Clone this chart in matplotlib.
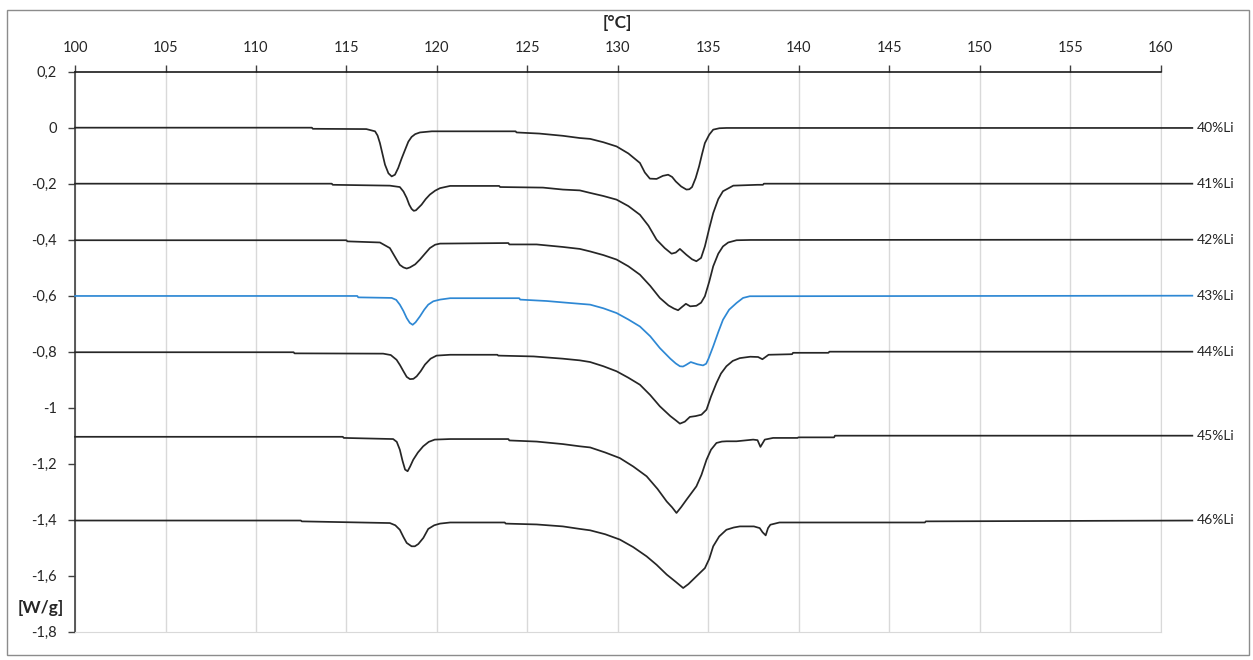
import matplotlib
matplotlib.use("Agg")
import matplotlib.pyplot as plt
from matplotlib.patches import Rectangle

# DSC curves, temperature [°C] vs heat flow [W/g]
t40 = [100, 113.09, 113.14, 116.10, 116.58, 116.72, 116.85, 117.13, 117.32, 117.50, 117.68, 117.86,
       118.05, 118.24, 118.42, 118.60, 118.80, 119.06, 119.72, 121.73, 124.35, 124.40, 125.66, 126.96,
       127.90, 128.47, 129.20, 129.93, 130.58, 131.22, 131.49, 131.77, 132.14, 132.49, 132.78, 133.00,
       133.20, 133.50, 133.79, 133.95, 134.10, 134.30, 134.49, 134.65, 134.81, 135.05, 135.27, 135.61,
       136.01, 161.75]
w40 = [0, 0, -0.004, -0.005, -0.013, -0.028, -0.055, -0.132, -0.163, -0.174, -0.168, -0.144,
       -0.110, -0.079, -0.050, -0.033, -0.023, -0.017, -0.013, -0.013, -0.013, -0.017, -0.021, -0.029,
       -0.037, -0.040, -0.052, -0.067, -0.092, -0.126, -0.160, -0.182, -0.183, -0.172, -0.168, -0.176,
       -0.192, -0.210, -0.221, -0.220, -0.212, -0.180, -0.138, -0.095, -0.055, -0.025, -0.007, -0.002,
       -0.001, -0.001]

t41 = [100, 114.19, 114.24, 117.40, 117.95, 118.15, 118.33, 118.47, 118.60, 118.72, 118.84, 119.15,
       119.38, 119.61, 119.90, 120.17, 120.73, 123.44, 123.49, 125.86, 126.96, 127.90, 128.47, 129.20,
       129.93, 130.58, 131.22, 131.69, 132.14, 132.59, 132.97, 133.20, 133.43, 133.79, 134.10, 134.34,
       134.60, 134.81, 135.05, 135.27, 135.55, 135.81, 136.38, 137.72, 138.02, 138.07, 161.75]
w41 = [-0.2, -0.2, -0.204, -0.207, -0.212, -0.228, -0.251, -0.275, -0.290, -0.297, -0.295, -0.275,
       -0.255, -0.239, -0.225, -0.216, -0.208, -0.208, -0.212, -0.214, -0.221, -0.224, -0.233, -0.244,
       -0.257, -0.280, -0.311, -0.350, -0.400, -0.430, -0.450, -0.446, -0.433, -0.454, -0.470, -0.477,
       -0.465, -0.424, -0.360, -0.305, -0.255, -0.227, -0.207, -0.204, -0.204, -0.2, -0.2]

t42 = [100, 115.00, 115.05, 116.85, 117.40, 117.77, 117.95, 118.15, 118.33, 118.51, 118.80, 119.06,
       119.34, 119.61, 119.90, 120.17, 123.95, 124.00, 125.51, 126.96, 127.90, 128.47, 129.20, 129.93,
       130.58, 131.22, 131.79, 132.32, 132.80, 133.10, 133.33, 133.55, 133.76, 134.00, 134.34, 134.60,
       134.81, 135.05, 135.27, 135.55, 135.81, 136.10, 136.56, 137.32, 161.75]
w42 = [-0.402, -0.402, -0.406, -0.410, -0.430, -0.471, -0.490, -0.499, -0.503, -0.499, -0.488, -0.471,
       -0.450, -0.430, -0.418, -0.414, -0.412, -0.417, -0.417, -0.426, -0.433, -0.442, -0.455, -0.471,
       -0.495, -0.525, -0.565, -0.608, -0.635, -0.646, -0.652, -0.640, -0.629, -0.638, -0.636, -0.625,
       -0.602, -0.550, -0.495, -0.450, -0.424, -0.410, -0.402, -0.401, -0.4]

t43 = [100, 115.60, 115.65, 117.50, 117.75, 117.95, 118.15, 118.33, 118.50, 118.66, 118.82, 119.06,
       119.30, 119.52, 119.80, 120.17, 120.73, 124.55, 124.60, 126.06, 126.96, 127.90, 128.47, 129.20,
       129.93, 130.58, 131.22, 131.79, 132.32, 132.90, 133.20, 133.43, 133.60, 133.75, 134.03, 134.40,
       134.71, 134.88, 135.01, 135.27, 135.55, 135.81, 136.15, 136.56, 136.92, 137.29, 161.75]
w43 = [-0.601, -0.601, -0.606, -0.608, -0.615, -0.632, -0.655, -0.680, -0.697, -0.704, -0.695, -0.674,
       -0.650, -0.632, -0.620, -0.614, -0.609, -0.609, -0.614, -0.619, -0.624, -0.629, -0.632, -0.645,
       -0.662, -0.685, -0.710, -0.745, -0.787, -0.825, -0.842, -0.852, -0.853, -0.848, -0.837, -0.845,
       -0.849, -0.843, -0.825, -0.781, -0.730, -0.686, -0.650, -0.626, -0.608, -0.602, -0.6]

t44 = [100, 112.08, 112.13, 117.03, 117.45, 117.77, 117.96, 118.15, 118.33, 118.51, 118.70, 118.88,
       119.10, 119.34, 119.65, 119.98, 120.73, 123.34, 123.39, 125.35, 126.96, 127.90, 128.47, 129.20,
       129.93, 130.58, 131.22, 131.79, 132.32, 132.90, 133.20, 133.43, 133.70, 133.98, 134.30, 134.62,
       134.90, 135.15, 135.45, 135.70, 136.00, 136.35, 136.74, 137.32, 137.75, 137.99, 138.33, 139.63,
       139.68, 141.64, 141.69, 161.75]
w44 = [-0.802, -0.802, -0.806, -0.807, -0.812, -0.829, -0.848, -0.870, -0.890, -0.898, -0.897, -0.888,
       -0.870, -0.846, -0.825, -0.814, -0.811, -0.811, -0.814, -0.817, -0.825, -0.831, -0.837, -0.852,
       -0.870, -0.893, -0.918, -0.955, -0.995, -1.030, -1.045, -1.057, -1.050, -1.033, -1.030, -1.025,
       -1.007, -0.960, -0.912, -0.878, -0.852, -0.833, -0.823, -0.818, -0.819, -0.827, -0.811, -0.809,
       -0.804, -0.804, -0.8, -0.8]

t45 = [100, 114.80, 114.85, 117.58, 117.78, 117.95, 118.10, 118.24, 118.38, 118.52, 118.69, 118.95,
       119.24, 119.55, 119.88, 120.73, 123.95, 124.00, 125.51, 126.96, 127.90, 128.47, 129.30, 130.11,
       130.85, 131.59, 132.19, 132.70, 133.00, 133.24, 133.50, 133.79, 134.34, 134.62, 134.90, 135.15,
       135.45, 135.75, 136.01, 136.56, 137.48, 137.72, 137.88, 138.12, 138.58, 139.93, 139.98, 141.95,
       142.00, 161.75]
w45 = [-1.104, -1.104, -1.108, -1.112, -1.122, -1.150, -1.190, -1.221, -1.227, -1.210, -1.186, -1.160,
       -1.138, -1.122, -1.114, -1.112, -1.112, -1.117, -1.121, -1.130, -1.138, -1.142, -1.160, -1.180,
       -1.210, -1.245, -1.290, -1.335, -1.356, -1.376, -1.355, -1.329, -1.281, -1.240, -1.186, -1.150,
       -1.126, -1.121, -1.120, -1.120, -1.114, -1.116, -1.140, -1.114, -1.108, -1.108, -1.106, -1.106,
       -1.1, -1.1]

t46 = [100, 112.48, 112.53, 117.40, 117.70, 117.95, 118.15, 118.33, 118.60, 118.78, 118.97, 119.25,
       119.52, 119.85, 120.17, 120.73, 123.75, 123.80, 125.51, 126.96, 127.90, 128.47, 129.30, 130.11,
       130.85, 131.59, 132.14, 132.70, 133.20, 133.61, 133.90, 134.25, 134.81, 135.05, 135.27, 135.60,
       136.00, 136.40, 136.74, 137.52, 137.84, 138.00, 138.17, 138.30, 138.43, 138.93, 146.97, 147.02,
       161.75]
w46 = [-1.403, -1.403, -1.406, -1.412, -1.420, -1.436, -1.462, -1.483, -1.495, -1.495, -1.487, -1.465,
       -1.433, -1.420, -1.414, -1.410, -1.410, -1.414, -1.417, -1.424, -1.433, -1.438, -1.452, -1.471,
       -1.498, -1.531, -1.561, -1.596, -1.622, -1.644, -1.630, -1.608, -1.573, -1.540, -1.495, -1.460,
       -1.436, -1.428, -1.424, -1.424, -1.430, -1.445, -1.456, -1.430, -1.418, -1.410, -1.410, -1.406,
       -1.403]

curves = [(t40, w40), (t41, w41), (t42, w42), (t43, w43), (t44, w44), (t45, w45), (t46, w46)]
labels = ["40%Li", "41%Li", "42%Li", "43%Li", "44%Li", "45%Li", "46%Li"]
label_y = [0, -0.2, -0.4, -0.6, -0.8, -1.1, -1.4]
colors = ["#262626", "#262626", "#262626", "#2e88d4", "#262626", "#262626", "#262626"]

x_ticks = list(range(100, 161, 5))
y_ticks = [0.2, 0, -0.2, -0.4, -0.6, -0.8, -1.0, -1.2, -1.4, -1.6, -1.8]

plt.rcParams["font.family"] = ["Lato", "DejaVu Sans"]

fig = plt.figure(figsize=(12.53, 6.6), dpi=100)
ax = fig.add_axes([0.0599, 0.0429, 0.9263 - 0.0599, 0.8914 - 0.0429])

for (t, w), c in zip(curves, colors):
    ax.plot(t, w, color=c, lw=1.25, clip_on=False, zorder=3, solid_joinstyle="round")

for lab, y in zip(labels, label_y):
    ax.text(162.0, y, lab, fontsize=10, color="#262626", ha="left", va="center")

ax.set_xlim(100, 160)
ax.set_ylim(-1.8, 0.2)
ax.xaxis.tick_top()
ax.set_xticks(x_ticks)
ax.set_xticklabels([str(v) for v in x_ticks])
ax.set_yticks(y_ticks)
ax.set_yticklabels([f"{v:g}".replace(".", ",") for v in y_ticks])
ax.tick_params(axis="x", direction="out", length=5, width=1, pad=7, labelsize=10.5,
               colors="#404040", labelcolor="#262626")
ax.tick_params(axis="y", direction="out", length=5, width=1, pad=8, labelsize=10.5,
               colors="#404040", labelcolor="#262626")

ax.grid(axis="x", color="#d9d9d9", lw=1)
ax.set_axisbelow(True)
ax.spines["top"].set_color("#1a1a1a")
ax.spines["top"].set_linewidth(1.2)
ax.spines["left"].set_color("#404040")
ax.spines["left"].set_linewidth(1.2)
ax.spines["bottom"].set_color("#d9d9d9")
ax.spines["right"].set_color("#d9d9d9")

fig.text(617 / 1253, 1 - 23 / 660, "[°C]", fontsize=12.5, fontweight="bold",
         color="#262626", ha="center", va="center")
fig.text(41 / 1253, 1 - 608 / 660, "[W/g]", fontsize=12.5, fontweight="bold",
         color="#262626", ha="center", va="center")

fig.patches.append(Rectangle((7 / 1253, 1 - 655 / 660), 1242 / 1253, 645 / 660,
                             transform=fig.transFigure, fill=False,
                             edgecolor="#8c8c8c", lw=1))

fig.savefig("out.png", dpi=100)
